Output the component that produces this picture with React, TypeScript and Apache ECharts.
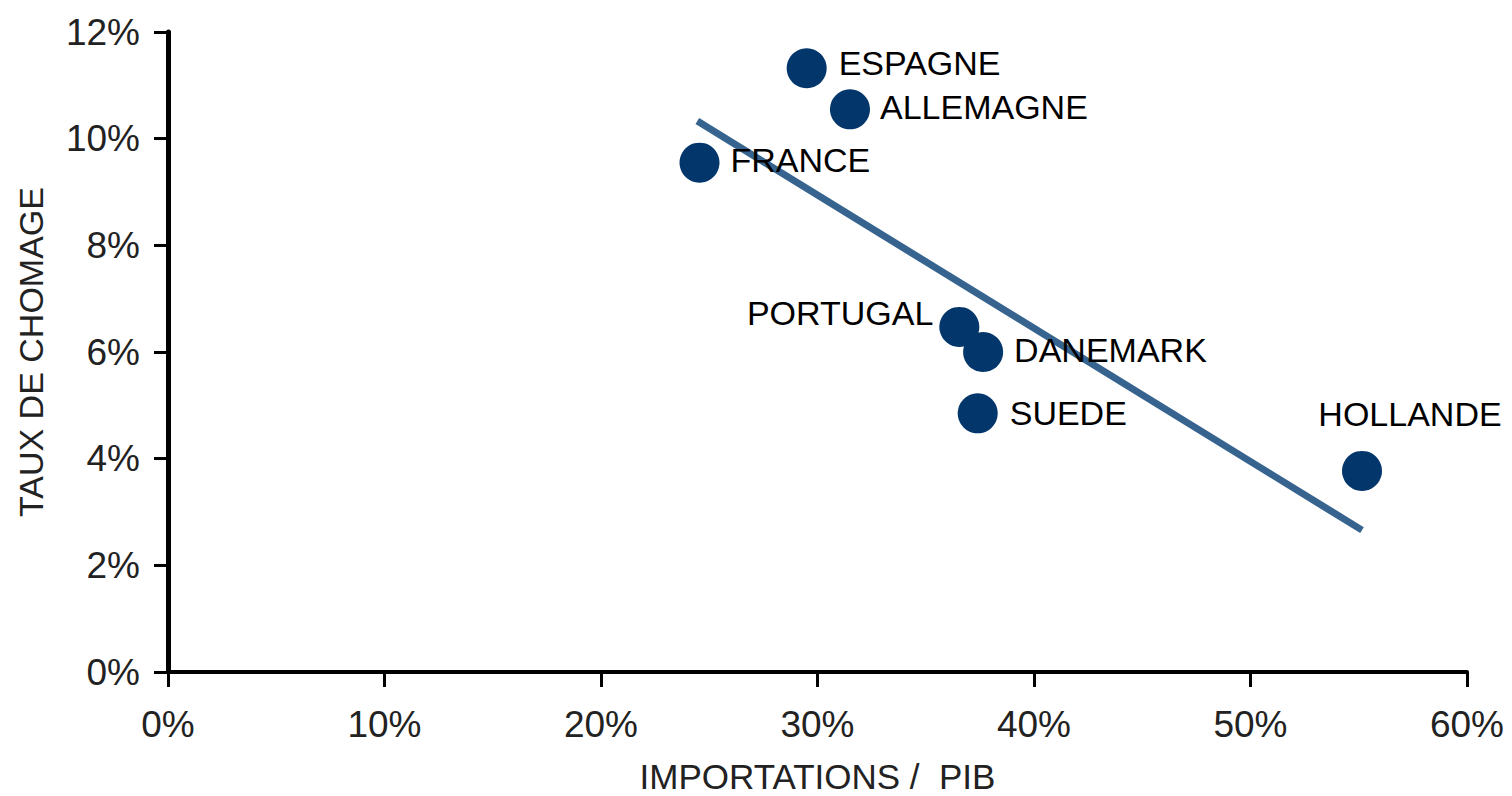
import React, { useEffect, useRef } from "react";
import * as echarts from "echarts";

const countries = ["ESPAGNE", "ALLEMAGNE", "FRANCE", "PORTUGAL", "DANEMARK", "SUEDE", "HOLLANDE"];
const importsPct = [29.5, 31.5, 24.55, 36.55, 37.65, 37.4, 55.15];
const unemploymentPct = [11.32, 10.55, 9.55, 6.47, 6.0, 4.85, 3.77];
const trendX = [24.45, 55.15];
const trendY = [10.33, 2.66];
const xTicks = { min: 0, max: 60, interval: 10 };
const yTicks = { min: 0, max: 12, interval: 2 };

const FONT = "'Liberation Sans', Arial, sans-serif";

const labelPlacement: Record<string, any> = {
  ESPAGNE: { position: "right", distance: 12, offset: [0, -5] },
  ALLEMAGNE: { position: "right", distance: 10, offset: [0, -2] },
  FRANCE: { position: "right", distance: 11, offset: [0, -3] },
  PORTUGAL: { position: "left", distance: 6, offset: [0, -14] },
  DANEMARK: { position: "right", distance: 11, offset: [0, -2] },
  SUEDE: { position: "right", distance: 12, offset: [0, 0] },
  HOLLANDE: { position: "top", distance: 20, offset: [48, 0] },
};

export default function App() {
  const ref = useRef<HTMLDivElement>(null);
  useEffect(() => {
    if (!ref.current) return;
    const chart = echarts.init(ref.current, undefined, { renderer: "svg" });
    const scatterData = countries.map((name, i) => ({
      name,
      value: [importsPct[i], unemploymentPct[i]],
      label: labelPlacement[name],
    }));
    chart.setOption({
      animation: false,
      backgroundColor: "#ffffff",
      grid: {
        left: 168,
        right: 45,
        top: 32,
        bottom: 124,
        containLabel: false,
        outerBoundsMode: "none",
      },
      xAxis: {
        type: "value",
        min: xTicks.min,
        max: xTicks.max,
        interval: xTicks.interval,
        name: "IMPORTATIONS /  PIB",
        nameLocation: "middle",
        nameGap: 87,
        nameTextStyle: { fontFamily: FONT, fontSize: 35, color: "#222" },
        axisLine: { show: true, onZero: false, lineStyle: { color: "#000", width: 4 } },
        axisTick: { show: true, inside: false, length: 15, lineStyle: { color: "#000", width: 3 } },
        axisLabel: { margin: 34, fontFamily: FONT, fontSize: 37, color: "#222", formatter: "{value}%" },
        splitLine: { show: false },
      },
      yAxis: {
        type: "value",
        min: yTicks.min,
        max: yTicks.max,
        interval: yTicks.interval,
        name: "TAUX DE CHOMAGE",
        nameLocation: "middle",
        nameGap: 120,
        nameRotate: 90,
        nameTextStyle: { fontFamily: FONT, fontSize: 34, color: "#222" },
        axisLine: { show: true, onZero: false, lineStyle: { color: "#000", width: 5 } },
        axisTick: { show: true, inside: false, length: 14, lineStyle: { color: "#000", width: 3 } },
        axisLabel: {
          margin: 28,
          fontFamily: FONT,
          fontSize: 37,
          color: "#222",
          formatter: "{value}%",
          padding: [0, 0, 10, 0],
        },
        splitLine: { show: false },
      },
      series: [
        {
          type: "line",
          data: trendX.map((x, i) => [x, trendY[i]]),
          showSymbol: false,
          symbol: "none",
          lineStyle: { color: "#36648F", width: 7 },
          z: 2,
          silent: true,
        },
        {
          type: "scatter",
          data: scatterData,
          symbol: "circle",
          symbolSize: 40,
          itemStyle: { color: "#03366B", opacity: 1 },
          label: {
            show: true,
            formatter: "{b}",
            fontFamily: FONT,
            fontSize: 34,
            color: "#000",
          },
          z: 3,
        },
      ],
    });
    return () => chart.dispose();
  }, []);
  return (
    <div
      ref={ref}
      style={{ position: "absolute", left: 0, top: 0, width: 1512, height: 796 }}
    />
  );
}
